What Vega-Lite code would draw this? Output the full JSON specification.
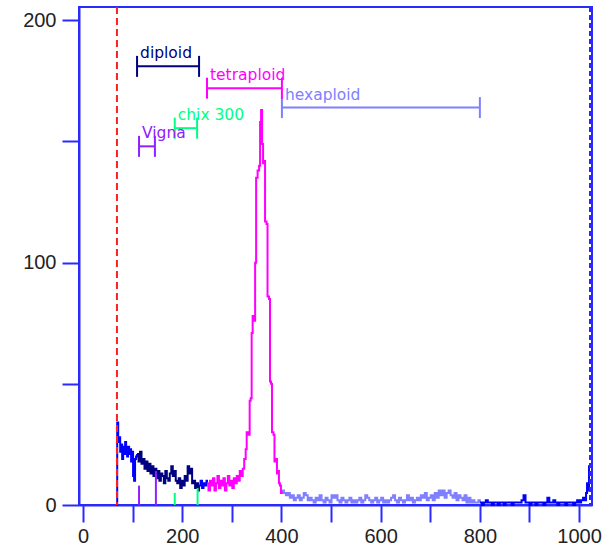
{
  "$schema": "https://vega.github.io/schema/vega-lite/v6.json",
  "width": 513,
  "height": 498,
  "autosize": {"type": "none"},
  "padding": {"left": 79, "top": 7, "right": 19, "bottom": 41},
  "background": "white",
  "title": {"text": "All Data Points", "fontSize": 20, "font": "Liberation Sans", "color": "#222222", "offset": 5, "baseline": "alphabetic", "fontWeight": "normal"},
  "config": {
    "view": {"stroke": "#2a2aff", "strokeWidth": 2},
    "axis": {"grid": false, "domainColor": "#2a2aff", "domainWidth": 2, "tickColor": "#2a2aff", "tickWidth": 2, "labelFont": "Liberation Sans", "labelFontSize": 20, "labelColor": "#222222"}
  },
  "datasets": {
    "hist": [
      {"c":68,"v":0,"s":"pre"},{"c":69,"v":34,"s":"pre"},{"c":71,"v":26,"s":"pre"},{"c":73,"v":28,"s":"pre"},{"c":75,"v":22,"s":"pre"},{"c":77,"v":25,"s":"pre"},{"c":79,"v":19,"s":"pre"},{"c":81,"v":24,"s":"pre"},{"c":83,"v":21,"s":"pre"},{"c":85,"v":26,"s":"pre"},{"c":87,"v":22,"s":"pre"},{"c":89,"v":20,"s":"pre"},{"c":91,"v":24,"s":"pre"},{"c":93,"v":21,"s":"pre"},{"c":95,"v":23,"s":"pre"},{"c":97,"v":18,"s":"pre"},{"c":99,"v":22,"s":"pre"},{"c":101,"v":12,"s":"pre"},{"c":103,"v":10,"s":"pre"},{"c":105,"v":19,"s":"pre"},{"c":107,"v":20,"s":"pre"},{"c":109,"v":21,"s":"pre"},
      {"c":109,"v":21,"s":"diploid"},{"c":112,"v":18,"s":"diploid"},{"c":115,"v":22,"s":"diploid"},{"c":118,"v":17,"s":"diploid"},{"c":121,"v":19,"s":"diploid"},{"c":124,"v":15,"s":"diploid"},{"c":127,"v":18,"s":"diploid"},{"c":130,"v":14,"s":"diploid"},{"c":133,"v":17,"s":"diploid"},{"c":136,"v":13,"s":"diploid"},{"c":139,"v":16,"s":"diploid"},{"c":142,"v":12,"s":"diploid"},{"c":145,"v":15,"s":"diploid"},{"c":148,"v":11,"s":"diploid"},{"c":151,"v":14,"s":"diploid"},{"c":154,"v":10,"s":"diploid"},{"c":157,"v":13,"s":"diploid"},{"c":160,"v":12,"s":"diploid"},{"c":163,"v":9,"s":"diploid"},{"c":166,"v":14,"s":"diploid"},{"c":169,"v":11,"s":"diploid"},{"c":172,"v":10,"s":"diploid"},{"c":175,"v":13,"s":"diploid"},{"c":178,"v":16,"s":"diploid"},{"c":181,"v":12,"s":"diploid"},{"c":184,"v":14,"s":"diploid"},{"c":187,"v":10,"s":"diploid"},{"c":190,"v":9,"s":"diploid"},{"c":193,"v":11,"s":"diploid"},{"c":196,"v":7,"s":"diploid"},{"c":199,"v":10,"s":"diploid"},{"c":202,"v":8,"s":"diploid"},{"c":205,"v":12,"s":"diploid"},{"c":208,"v":10,"s":"diploid"},{"c":211,"v":16,"s":"diploid"},{"c":214,"v":13,"s":"diploid"},{"c":217,"v":15,"s":"diploid"},{"c":220,"v":9,"s":"diploid"},{"c":223,"v":10,"s":"diploid"},{"c":226,"v":7,"s":"diploid"},{"c":229,"v":9,"s":"diploid"},{"c":232,"v":6,"s":"diploid"},{"c":234,"v":8,"s":"diploid"},
      {"c":234,"v":8,"s":"mid"},{"c":237,"v":10,"s":"mid"},{"c":240,"v":7,"s":"mid"},{"c":243,"v":9,"s":"mid"},{"c":246,"v":8,"s":"mid"},{"c":249,"v":10,"s":"mid"},{"c":250,"v":9,"s":"mid"},
      {"c":250,"v":9,"s":"tetraploid"},{"c":253,"v":6,"s":"tetraploid"},{"c":256,"v":10,"s":"tetraploid"},{"c":259,"v":8,"s":"tetraploid"},{"c":262,"v":11,"s":"tetraploid"},{"c":265,"v":6,"s":"tetraploid"},{"c":268,"v":9,"s":"tetraploid"},{"c":271,"v":12,"s":"tetraploid"},{"c":274,"v":7,"s":"tetraploid"},{"c":277,"v":10,"s":"tetraploid"},{"c":280,"v":8,"s":"tetraploid"},{"c":283,"v":11,"s":"tetraploid"},{"c":286,"v":6,"s":"tetraploid"},{"c":289,"v":9,"s":"tetraploid"},{"c":292,"v":12,"s":"tetraploid"},{"c":295,"v":8,"s":"tetraploid"},{"c":298,"v":10,"s":"tetraploid"},{"c":301,"v":7,"s":"tetraploid"},{"c":304,"v":11,"s":"tetraploid"},{"c":307,"v":9,"s":"tetraploid"},{"c":310,"v":12,"s":"tetraploid"},{"c":313,"v":10,"s":"tetraploid"},{"c":316,"v":14,"s":"tetraploid"},{"c":319,"v":12,"s":"tetraploid"},{"c":322,"v":15,"s":"tetraploid"},{"c":325,"v":19,"s":"tetraploid"},{"c":328,"v":23,"s":"tetraploid"},{"c":330,"v":30,"s":"tetraploid"},{"c":333,"v":29,"s":"tetraploid"},{"c":336,"v":43,"s":"tetraploid"},{"c":338,"v":44,"s":"tetraploid"},{"c":340,"v":71,"s":"tetraploid"},{"c":342,"v":78,"s":"tetraploid"},{"c":345,"v":76,"s":"tetraploid"},{"c":347,"v":100,"s":"tetraploid"},{"c":349,"v":135,"s":"tetraploid"},{"c":352,"v":138,"s":"tetraploid"},{"c":355,"v":140,"s":"tetraploid"},{"c":357,"v":158,"s":"tetraploid"},{"c":359,"v":163,"s":"tetraploid"},{"c":361,"v":149,"s":"tetraploid"},{"c":363,"v":141,"s":"tetraploid"},{"c":365,"v":142,"s":"tetraploid"},{"c":367,"v":117,"s":"tetraploid"},{"c":370,"v":116,"s":"tetraploid"},{"c":372,"v":86,"s":"tetraploid"},{"c":375,"v":85,"s":"tetraploid"},{"c":377,"v":51,"s":"tetraploid"},{"c":379,"v":50,"s":"tetraploid"},{"c":381,"v":30,"s":"tetraploid"},{"c":384,"v":29,"s":"tetraploid"},{"c":386,"v":18,"s":"tetraploid"},{"c":389,"v":19,"s":"tetraploid"},{"c":391,"v":13,"s":"tetraploid"},{"c":393,"v":14,"s":"tetraploid"},{"c":395,"v":9,"s":"tetraploid"},{"c":397,"v":8,"s":"tetraploid"},{"c":399,"v":5,"s":"tetraploid"},{"c":401,"v":6,"s":"tetraploid"},
      {"c":401,"v":6,"s":"hexaploid"},{"c":405,"v":5,"s":"hexaploid"},{"c":409,"v":4,"s":"hexaploid"},{"c":413,"v":5,"s":"hexaploid"},{"c":417,"v":3,"s":"hexaploid"},{"c":421,"v":4,"s":"hexaploid"},{"c":425,"v":2,"s":"hexaploid"},{"c":429,"v":3,"s":"hexaploid"},{"c":433,"v":4,"s":"hexaploid"},{"c":437,"v":2,"s":"hexaploid"},{"c":441,"v":3,"s":"hexaploid"},{"c":445,"v":5,"s":"hexaploid"},{"c":449,"v":4,"s":"hexaploid"},{"c":453,"v":2,"s":"hexaploid"},{"c":457,"v":3,"s":"hexaploid"},{"c":461,"v":2,"s":"hexaploid"},{"c":465,"v":1,"s":"hexaploid"},{"c":469,"v":3,"s":"hexaploid"},{"c":473,"v":2,"s":"hexaploid"},{"c":477,"v":4,"s":"hexaploid"},{"c":481,"v":2,"s":"hexaploid"},{"c":485,"v":1,"s":"hexaploid"},{"c":489,"v":3,"s":"hexaploid"},{"c":493,"v":2,"s":"hexaploid"},{"c":497,"v":1,"s":"hexaploid"},{"c":501,"v":4,"s":"hexaploid"},{"c":505,"v":3,"s":"hexaploid"},{"c":509,"v":4,"s":"hexaploid"},{"c":513,"v":2,"s":"hexaploid"},{"c":517,"v":1,"s":"hexaploid"},{"c":521,"v":3,"s":"hexaploid"},{"c":525,"v":2,"s":"hexaploid"},{"c":529,"v":1,"s":"hexaploid"},{"c":533,"v":2,"s":"hexaploid"},{"c":537,"v":3,"s":"hexaploid"},{"c":541,"v":1,"s":"hexaploid"},{"c":545,"v":2,"s":"hexaploid"},{"c":549,"v":1,"s":"hexaploid"},{"c":553,"v":2,"s":"hexaploid"},{"c":557,"v":3,"s":"hexaploid"},{"c":561,"v":1,"s":"hexaploid"},{"c":565,"v":2,"s":"hexaploid"},{"c":569,"v":4,"s":"hexaploid"},{"c":573,"v":3,"s":"hexaploid"},{"c":577,"v":2,"s":"hexaploid"},{"c":581,"v":1,"s":"hexaploid"},{"c":585,"v":2,"s":"hexaploid"},{"c":589,"v":3,"s":"hexaploid"},{"c":593,"v":1,"s":"hexaploid"},{"c":597,"v":2,"s":"hexaploid"},{"c":601,"v":3,"s":"hexaploid"},{"c":605,"v":1,"s":"hexaploid"},{"c":609,"v":2,"s":"hexaploid"},{"c":613,"v":1,"s":"hexaploid"},{"c":617,"v":2,"s":"hexaploid"},{"c":621,"v":3,"s":"hexaploid"},{"c":625,"v":4,"s":"hexaploid"},{"c":629,"v":2,"s":"hexaploid"},{"c":633,"v":1,"s":"hexaploid"},{"c":637,"v":3,"s":"hexaploid"},{"c":641,"v":2,"s":"hexaploid"},{"c":645,"v":1,"s":"hexaploid"},{"c":649,"v":2,"s":"hexaploid"},{"c":653,"v":4,"s":"hexaploid"},{"c":657,"v":2,"s":"hexaploid"},{"c":661,"v":3,"s":"hexaploid"},{"c":665,"v":1,"s":"hexaploid"},{"c":669,"v":2,"s":"hexaploid"},{"c":673,"v":3,"s":"hexaploid"},{"c":677,"v":2,"s":"hexaploid"},{"c":681,"v":4,"s":"hexaploid"},{"c":685,"v":3,"s":"hexaploid"},{"c":689,"v":5,"s":"hexaploid"},{"c":693,"v":2,"s":"hexaploid"},{"c":697,"v":3,"s":"hexaploid"},{"c":701,"v":4,"s":"hexaploid"},{"c":705,"v":2,"s":"hexaploid"},{"c":709,"v":5,"s":"hexaploid"},{"c":713,"v":3,"s":"hexaploid"},{"c":717,"v":6,"s":"hexaploid"},{"c":721,"v":4,"s":"hexaploid"},{"c":725,"v":6,"s":"hexaploid"},{"c":729,"v":3,"s":"hexaploid"},{"c":733,"v":5,"s":"hexaploid"},{"c":737,"v":6,"s":"hexaploid"},{"c":741,"v":4,"s":"hexaploid"},{"c":745,"v":3,"s":"hexaploid"},{"c":749,"v":5,"s":"hexaploid"},{"c":753,"v":2,"s":"hexaploid"},{"c":757,"v":4,"s":"hexaploid"},{"c":761,"v":3,"s":"hexaploid"},{"c":765,"v":2,"s":"hexaploid"},{"c":769,"v":4,"s":"hexaploid"},{"c":773,"v":1,"s":"hexaploid"},{"c":777,"v":3,"s":"hexaploid"},{"c":781,"v":1,"s":"hexaploid"},{"c":785,"v":2,"s":"hexaploid"},{"c":789,"v":1,"s":"hexaploid"},{"c":793,"v":1,"s":"hexaploid"},{"c":797,"v":2,"s":"hexaploid"},{"c":800,"v":1,"s":"hexaploid"},
      {"c":800,"v":1,"s":"post"},{"c":804,"v":0,"s":"post"},{"c":808,"v":1,"s":"post"},{"c":812,"v":2,"s":"post"},{"c":816,"v":1,"s":"post"},{"c":820,"v":1,"s":"post"},{"c":824,"v":0,"s":"post"},{"c":828,"v":1,"s":"post"},{"c":832,"v":1,"s":"post"},{"c":836,"v":0,"s":"post"},{"c":840,"v":1,"s":"post"},{"c":844,"v":1,"s":"post"},{"c":848,"v":0,"s":"post"},{"c":852,"v":1,"s":"post"},{"c":856,"v":1,"s":"post"},{"c":860,"v":1,"s":"post"},{"c":864,"v":0,"s":"post"},{"c":868,"v":1,"s":"post"},{"c":872,"v":1,"s":"post"},{"c":876,"v":1,"s":"post"},{"c":880,"v":1,"s":"post"},{"c":884,"v":2,"s":"post"},{"c":888,"v":4,"s":"post"},{"c":892,"v":1,"s":"post"},{"c":896,"v":1,"s":"post"},{"c":900,"v":0,"s":"post"},{"c":904,"v":1,"s":"post"},{"c":908,"v":1,"s":"post"},{"c":912,"v":0,"s":"post"},{"c":916,"v":1,"s":"post"},{"c":920,"v":1,"s":"post"},{"c":924,"v":1,"s":"post"},{"c":928,"v":0,"s":"post"},{"c":932,"v":1,"s":"post"},{"c":936,"v":3,"s":"post"},{"c":940,"v":1,"s":"post"},{"c":944,"v":1,"s":"post"},{"c":948,"v":2,"s":"post"},{"c":952,"v":1,"s":"post"},{"c":956,"v":0,"s":"post"},{"c":960,"v":1,"s":"post"},{"c":964,"v":1,"s":"post"},{"c":968,"v":1,"s":"post"},{"c":972,"v":0,"s":"post"},{"c":976,"v":1,"s":"post"},{"c":980,"v":1,"s":"post"},{"c":984,"v":1,"s":"post"},{"c":988,"v":0,"s":"post"},{"c":992,"v":1,"s":"post"},{"c":996,"v":2,"s":"post"},{"c":1000,"v":1,"s":"post"},{"c":1004,"v":2,"s":"post"},{"c":1008,"v":3,"s":"post"},{"c":1012,"v":2,"s":"post"},{"c":1014,"v":5,"s":"post"},{"c":1016,"v":9,"s":"post"},{"c":1018,"v":6,"s":"post"},{"c":1020,"v":16,"s":"post"},{"c":1022,"v":16,"s":"post"}
    ],
    "gates": [
      {"g":"diploid","start":109,"end":234,"level":181},
      {"g":"tetraploid","start":250,"end":401,"level":172},
      {"g":"hexaploid","start":401,"end":800,"level":164},
      {"g":"chix 300","start":185,"end":230,"level":155.5},
      {"g":"Vigna","start":113,"end":145,"level":148}
    ],
    "drops": [
      {"g":"Vigna","x":113,"y0":0,"top":8},
      {"g":"Vigna","x":147,"y0":0,"top":14},
      {"g":"chix 300","x":185,"y0":0,"top":5},
      {"g":"chix 300","x":231,"y0":0,"top":7}
    ],
    "markers": [
      {"m":"left","x":68.5},
      {"m":"right","x":1022}
    ]
  },
  "layer": [
    {
      "data": {"name": "hist"},
      "mark": {"type": "line", "interpolate": "step-after", "strokeWidth": 2},
      "encoding": {
        "x": {"field": "c", "type": "quantitative", "title": null, "scale": {"domain": [-8, 1026], "nice": false, "zero": false},
          "axis": {"values": [0,50,100,150,200,250,300,350,400,450,500,550,600,650,700,750,800,850,900,950,1000],
            "format": "d",
            "labelExpr": "datum.value % 200 === 0 ? datum.label : ''",
            "tickSize": {"condition": {"test": "datum.value % 100 === 0", "value": 17}, "value": 10},
            "labelPadding": 4, "title": null}},
        "y": {"field": "v", "type": "quantitative", "title": null, "scale": {"domain": [0, 205.5], "nice": false},
          "axis": {"values": [0,50,100,150,200], "format": "d", "labelExpr": "datum.value % 100 === 0 ? datum.label : ''", "tickSize": 17, "labelPadding": 6, "title": null}},
        "color": {"field": "s", "type": "nominal", "legend": null,
          "scale": {"domain": ["pre","diploid","mid","tetraploid","hexaploid","post","chix 300","Vigna"], "range": ["#0000ff","#000080","#0000ff","#ff00ff","#8080ff","#0000ff","#00ff80","#9020ff"]}}
      }
    },
    {
      "data": {"name": "drops"},
      "mark": {"type": "rule", "strokeWidth": 2},
      "encoding": {
        "x": {"field": "x", "type": "quantitative", "title": null},
        "y": {"field": "y0", "type": "quantitative", "title": null},
        "y2": {"field": "top"},
        "color": {"field": "g", "type": "nominal", "legend": null}
      }
    },
    {
      "data": {"name": "markers"},
      "transform": [{"filter": "datum.m === 'left'"}],
      "mark": {"type": "rule", "strokeWidth": 2, "strokeDash": [7, 4], "color": "#ff2020"},
      "encoding": {"x": {"field": "x", "type": "quantitative", "title": null}}
    },
    {
      "data": {"name": "markers"},
      "transform": [{"filter": "datum.m === 'right'"}],
      "mark": {"type": "rule", "strokeWidth": 2, "strokeDash": [5, 3], "color": "#2a2aff"},
      "encoding": {"x": {"field": "x", "type": "quantitative", "title": null}}
    },
    {
      "data": {"name": "gates"},
      "mark": {"type": "rule", "strokeWidth": 2},
      "encoding": {
        "x": {"field": "start", "type": "quantitative", "title": null},
        "x2": {"field": "end"},
        "y": {"field": "level", "type": "quantitative", "title": null},
        "color": {"field": "g", "type": "nominal", "legend": null}
      }
    },
    {
      "data": {"name": "gates"},
      "mark": {"type": "tick", "orient": "vertical", "size": 21, "thickness": 2, "opacity": 1},
      "encoding": {
        "x": {"field": "start", "type": "quantitative", "title": null},
        "y": {"field": "level", "type": "quantitative", "title": null},
        "color": {"field": "g", "type": "nominal", "legend": null}
      }
    },
    {
      "data": {"name": "gates"},
      "mark": {"type": "tick", "orient": "vertical", "size": 21, "thickness": 2, "opacity": 1},
      "encoding": {
        "x": {"field": "end", "type": "quantitative", "title": null},
        "y": {"field": "level", "type": "quantitative", "title": null},
        "color": {"field": "g", "type": "nominal", "legend": null}
      }
    },
    {
      "data": {"name": "gates"},
      "mark": {"type": "text", "align": "left", "baseline": "alphabetic", "dx": 3, "dy": -8, "font": "DejaVu Sans", "fontSize": 15.5},
      "encoding": {
        "x": {"field": "start", "type": "quantitative", "title": null},
        "y": {"field": "level", "type": "quantitative", "title": null},
        "text": {"field": "g"},
        "color": {"field": "g", "type": "nominal", "legend": null}
      }
    }
  ]
}
